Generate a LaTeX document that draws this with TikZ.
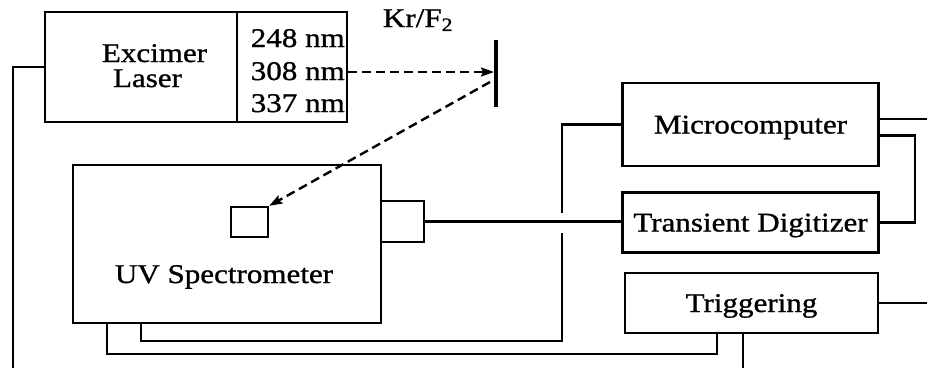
\documentclass[tikz,border=0pt]{standalone}
\usepackage{fontspec}
\setmainfont{Liberation Serif}[FakeStretch=1.15,FakeBold=1]
\usetikzlibrary{arrows.meta}
\tikzset{
  box/.style={draw, line width=2.4pt, rectangle, inner sep=0pt,
    font=\fontsize{27}{30}\selectfont, text height=18pt, text depth=0pt},
  lbl/.style={inner sep=0pt, font=\fontsize{27}{30}\selectfont},
  wire/.style={line width=2.4pt},
  beam/.style={line width=2.4pt, dash pattern=on 9pt off 5pt,
    -{Stealth[length=13pt,width=9pt,inset=2pt]}},
  mirrorline/.style={line width=3.5pt}
}
\begin{document}
\begin{tikzpicture}[x=1pt,y=-1pt]
\useasboundingbox (0,0) rectangle (927,368);
% Excimer laser
\node[box, minimum width=192pt, minimum height=110pt] (excL) at (141,67) {};
\node[box, minimum width=110pt, minimum height=110pt] (excR) at (292,67) {};
\node[lbl, anchor=base] (exc1) at (154.5,62) {Excimer};
\node[lbl, anchor=base] (exc2) at (147.5,87) {Laser};
\node[lbl, anchor=base east] (w1) at (345,47) {248 nm};
\node[lbl, anchor=base east] (w2) at (345,80) {308 nm};
\node[lbl, anchor=base east] (w3) at (345,112) {337 nm};
% mirror
\node[lbl, anchor=base] (kr) at (418,27) {Kr/F\textsubscript{2}};
\coordinate (mirtop) at (496,40);
\coordinate (mirbot) at (496,107);
\coordinate (mirin) at (494,72);
\coordinate (mirout) at (490,82);
\draw[mirrorline] (mirtop) -- (mirbot);
% UV spectrometer
\node[box, minimum width=308pt, minimum height=158pt] (uv) at (227,244) {};
\node[lbl, anchor=base] (uvt) at (224,283) {UV Spectrometer};
\node[box, minimum width=37pt, minimum height=30pt] (cell) at (249.5,222) {};
\node[box, minimum width=43pt, minimum height=41pt] (side) at (402.5,221.5) {};
% electronics
\node[box, minimum width=256pt, minimum height=83pt] (micro) at (750.5,124.5) {Microcomputer};
\node[box, minimum width=256pt, minimum height=60pt] (digit) at (750.5,222.5) {Transient Digitizer};
\node[box, minimum width=253pt, minimum height=60pt] (trig) at (751.5,303) {Triggering};
% free ends
\coordinate (lb) at (13,368);
\coordinate (tb) at (743,368);
\coordinate (te) at (927,303);
\coordinate (me) at (927,119);
\coordinate (rl) at (915,0);
\coordinate (vx) at (562,0);
% beams
\draw[beam] (excR.east |- mirin) -- (mirin);
\draw[beam] (mirout) -- (cell.north east);
% wires
\draw[wire] (excL.west) -| (lb);
\draw[wire] (side.east) -- (side.east -| digit.west);
\draw[wire] ([xshift=69pt]uv.south west) -- ++(0,17) -| ([yshift=-10pt]vx |- digit.west);
\draw[wire] ([yshift=10pt]vx |- digit.west) |- (micro.west);
\draw[wire] ([xshift=35pt]uv.south west) -- ++(0,30) -| ([xshift=93pt]trig.south west);
\draw[wire] (trig.south -| tb) -- (tb);
\draw[wire] (trig.east) -- (te);
\draw[wire] (micro.east |- me) -- (me);
\draw[wire] ([yshift=-11pt]micro.east) -| (rl |- digit.east) -- (digit.east);
\end{tikzpicture}
\end{document}
